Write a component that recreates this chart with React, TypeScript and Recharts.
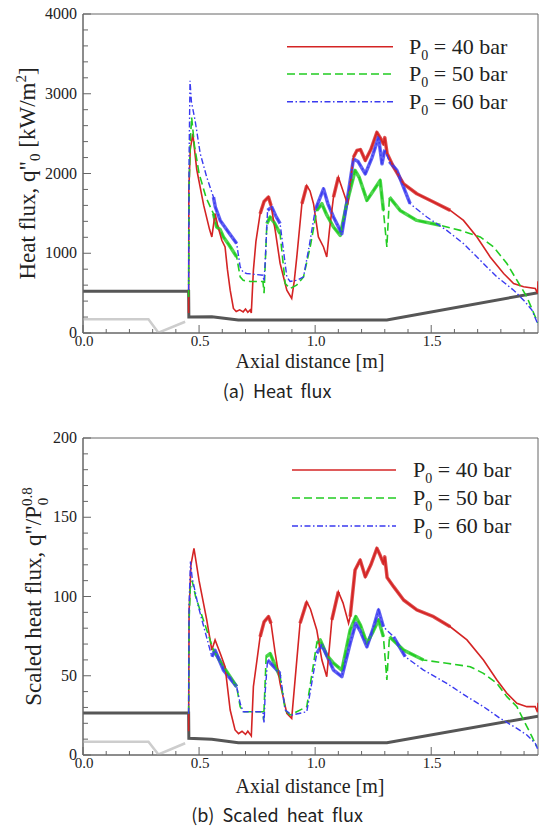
import React from 'react';
import { LineChart, Line, XAxis, YAxis, ReferenceArea } from 'recharts';

// axial distance ticks [m]
const xTicks = [0, 0.1, 0.2, 0.3, 0.4, 0.5, 0.6, 0.7, 0.8, 0.9, 1.0, 1.1, 1.2, 1.3, 1.4, 1.5, 1.6, 1.7, 1.8, 1.9];
const xMajor = [0, 0.5, 1.0, 1.5];

const heatTicks = [0, 200, 400, 600, 800, 1000, 1200, 1400, 1600, 1800, 2000, 2200, 2400, 2600, 2800, 3000, 3200, 3400, 3600, 3800, 4000];
const heatMajor = [0, 1000, 2000, 3000, 4000];
const scaledTicks = [0, 10, 20, 30, 40, 50, 60, 70, 80, 90, 100, 110, 120, 130, 140, 150, 160, 170, 180, 190, 200];
const scaledMajor = [0, 50, 100, 150, 200];

const pressures = ['40', '50', '60'];

// (a) heat flux q"0 [kW/m2]  -> [x, q]
const heat40 = [
  [0.455, 250], [0.456, 1800], [0.462, 2300], [0.473, 2496], [0.49, 2050], [0.52, 1600], [0.545, 1300],
  [0.555, 1204], [0.569, 1496], [0.58, 1350], [0.598, 1163], [0.612, 1079], [0.622, 800], [0.634, 537],
  [0.648, 308], [0.66, 270], [0.675, 290], [0.69, 265], [0.7, 300], [0.71, 260], [0.72, 290], [0.725, 250],
  [0.734, 787], [0.745, 1150], [0.763, 1496], [0.78, 1650], [0.799, 1704], [0.81, 1600], [0.828, 1287],
  [0.849, 875], [0.878, 537], [0.899, 433], [0.91, 650], [0.921, 954], [0.943, 1621], [0.964, 1850],
  [0.978, 1780], [0.993, 1621], [1.014, 1204], [1.036, 1079], [1.05, 954], [1.062, 1300], [1.079, 1704],
  [1.1, 1954], [1.118, 1800], [1.14, 1610], [1.165, 2204], [1.18, 2288], [1.195, 2300], [1.216, 2163],
  [1.24, 2300], [1.266, 2516], [1.28, 2450], [1.294, 2371], [1.3, 2450], [1.31, 2250], [1.338, 2079],
  [1.381, 1871], [1.438, 1746], [1.51, 1642], [1.582, 1537], [1.639, 1412], [1.697, 1204], [1.754, 954],
  [1.812, 746], [1.855, 621], [1.898, 579], [1.948, 558], [1.958, 500], [1.96, 650],
];
const heat50 = [
  [0.455, 450], [0.457, 1800], [0.462, 2400], [0.468, 2704], [0.48, 2350], [0.5, 2000], [0.53, 1700],
  [0.562, 1496], [0.576, 1329], [0.59, 1300], [0.605, 1204], [0.63, 1100], [0.662, 954], [0.677, 704],
  [0.69, 660], [0.72, 646], [0.775, 646], [0.78, 500], [0.792, 1371], [0.806, 1454], [0.825, 1380],
  [0.849, 1246], [0.871, 621], [0.892, 558], [0.92, 600], [0.95, 704], [0.98, 1100], [1.007, 1537],
  [1.029, 1621], [1.05, 1480], [1.079, 1329], [1.108, 1225], [1.136, 1621], [1.172, 2038], [1.19, 1950],
  [1.223, 1663], [1.25, 1780], [1.28, 1913], [1.294, 1537], [1.309, 1079], [1.32, 1704], [1.366, 1537],
  [1.438, 1412], [1.539, 1350], [1.625, 1287], [1.711, 1204], [1.769, 1079], [1.826, 871], [1.869, 662],
  [1.912, 454], [1.948, 204], [1.96, 125],
];
const heat60 = [
  [0.455, 540], [0.457, 2200], [0.461, 3162], [0.467, 2900], [0.483, 2663], [0.505, 2250], [0.533, 1954],
  [0.562, 1704], [0.57, 1580], [0.591, 1412], [0.63, 1250], [0.662, 1121], [0.677, 829], [0.69, 760],
  [0.705, 746], [0.775, 725], [0.78, 650], [0.785, 900], [0.795, 1537], [0.813, 1580], [0.83, 1470],
  [0.849, 1371], [0.878, 704], [0.892, 646], [0.92, 660], [0.95, 704], [0.975, 1100], [1.0, 1537],
  [1.036, 1808], [1.055, 1620], [1.079, 1454], [1.115, 1246], [1.14, 1700], [1.165, 2183], [1.185, 2150],
  [1.216, 1996], [1.245, 2200], [1.273, 2454], [1.288, 2121], [1.3, 2300], [1.32, 2150], [1.352, 2038],
  [1.409, 1621], [1.481, 1454], [1.567, 1287], [1.639, 1121], [1.711, 912], [1.783, 704], [1.855, 537],
  [1.898, 412], [1.934, 287], [1.955, 141], [1.96, 100],
];
const heatWallDark = [[0, 525], [0.455, 525], [0.456, 200], [0.555, 204], [0.669, 162], [1.309, 162], [1.96, 506]];
const heatWallLight = [[0, 171], [0.282, 171], [0.325, 4], [0.44, 141]];

// (b) scaled heat flux q"/P0^0.8 -> [x, s]
const scaled40 = [
  [0.455, 15], [0.457, 90], [0.465, 120], [0.478, 130.4], [0.5, 110], [0.533, 85.2], [0.555, 66.2],
  [0.569, 72.6], [0.591, 64.2], [0.612, 55.7], [0.634, 28.4], [0.655, 15.8], [0.67, 13.5], [0.685, 15],
  [0.7, 13], [0.71, 15], [0.72, 13], [0.725, 12], [0.734, 43.1], [0.763, 74.6], [0.78, 84], [0.799, 87.3],
  [0.81, 83], [0.828, 64.2], [0.849, 45.2], [0.878, 26.3], [0.899, 23.1], [0.921, 59.9], [0.935, 83.1],
  [0.964, 96.7], [0.98, 92], [1.007, 78.9], [1.029, 59.9], [1.05, 49.4], [1.072, 85.2], [1.1, 103],
  [1.12, 96], [1.144, 83.1], [1.151, 87.3], [1.172, 116.7], [1.194, 123], [1.216, 112.5], [1.24, 120],
  [1.266, 130.4], [1.28, 126], [1.294, 120.9], [1.3, 125], [1.31, 112], [1.338, 106.2], [1.381, 97.8],
  [1.438, 91.5], [1.51, 87.3], [1.582, 80.9], [1.654, 72.6], [1.725, 59.9], [1.783, 47.3], [1.826, 38.9],
  [1.869, 32.6], [1.912, 30.5], [1.948, 30.5], [1.958, 27], [1.96, 33],
];
const scaled50 = [
  [0.455, 26], [0.457, 85], [0.462, 105], [0.47, 110], [0.485, 100], [0.504, 91.5], [0.562, 66.2],
  [0.605, 55.7], [0.662, 43.1], [0.677, 30.5], [0.69, 27.3], [0.775, 27.3], [0.778, 22], [0.789, 62],
  [0.806, 64], [0.849, 49.4], [0.871, 28.4], [0.892, 25.2], [0.964, 30.5], [0.985, 50], [1.007, 70.5],
  [1.022, 72.6], [1.05, 63], [1.079, 57.9], [1.115, 53.6], [1.151, 78.9], [1.175, 87.3], [1.195, 82],
  [1.223, 70.5], [1.25, 78], [1.273, 85.2], [1.294, 74.6], [1.309, 47.3], [1.32, 74.6], [1.381, 66.2],
  [1.467, 59.9], [1.567, 57.9], [1.668, 55.7], [1.725, 51.5], [1.783, 45.2], [1.826, 36.8], [1.869, 30.5],
  [1.905, 20], [1.934, 11.6], [1.955, 5.2],
];
const scaled60 = [
  [0.455, 26], [0.457, 95], [0.463, 122], [0.47, 112], [0.497, 93.6], [0.555, 62], [0.569, 66],
  [0.605, 53.6], [0.662, 43.1], [0.677, 32.6], [0.69, 27.3], [0.775, 27.3], [0.78, 20], [0.785, 40],
  [0.795, 59.9], [0.849, 51.5], [0.871, 28.4], [0.899, 25.2], [0.964, 27.3], [0.985, 45], [1.007, 64.2],
  [1.029, 69.4], [1.079, 53.6], [1.115, 49.4], [1.151, 70.5], [1.175, 83.1], [1.195, 78], [1.223, 68.3],
  [1.25, 80], [1.273, 91.5], [1.294, 80.9], [1.338, 74.6], [1.388, 62], [1.467, 53.6], [1.567, 45.2],
  [1.654, 36.8], [1.725, 30.5], [1.797, 23.1], [1.869, 16.8], [1.912, 12.6], [1.948, 7.4], [1.958, 4],
];
const scaledWallDark = [[0, 26.5], [0.455, 26.5], [0.456, 10.5], [0.555, 10], [0.669, 7.8], [1.309, 7.8], [1.96, 24.5]];
const scaledWallLight = [[0, 8.4], [0.282, 8.4], [0.325, 0.3], [0.44, 7.4]];

// x ranges where each curve oscillates into a thick band
const noisy40 = [[0.76, 0.81], [0.935, 0.975], [1.07, 1.115], [1.15, 1.62]];
const noisy50 = [[0.55, 0.665], [0.785, 0.85], [0.995, 1.3], [1.315, 1.55]];
const noisy60 = [[0.55, 0.665], [0.79, 0.85], [0.995, 1.3], [1.315, 1.45]];

const RED = '#d42424';
const GREEN = '#22cc22';
const BLUE = '#3a3af0';
const DARK = '#565656';
const LIGHT = '#cdcdcd';
const AXIS = '#666';
const SERIF = 'Liberation Serif, Times New Roman, serif';
const SANS = 'Noto Sans CJK KR, Noto Sans, sans-serif';

const styles = [
  { color: RED, dash: undefined, width: 1.6, noisy: noisy40 },
  { color: GREEN, dash: '8 4', width: 1.6, noisy: noisy50 },
  { color: BLUE, dash: '6 2.5 1.5 2.5', width: 1.4, noisy: noisy60 },
];

const pts = (arr: number[][]) => arr.map(([x, y]) => ({ x, y }));

// same points, kept only inside the noisy ranges, with gaps between them
const bandPts = (arr: number[][], ranges: number[][]) => {
  const out: { x: number; y: number | null }[] = [];
  ranges.forEach(([lo, hi]) => {
    arr.filter(([x]) => x >= lo && x <= hi).forEach(([x, y]) => out.push({ x, y }));
    out.push({ x: hi + 0.0005, y: null });
  });
  return out;
};

const BottomTick = (props: any) => {
  const { x, y, payload } = props;
  const v = payload.value;
  const major = xMajor.includes(v);
  return (
    <g>
      <line x1={x} x2={x} y1={y} y2={y - (major ? 8 : 4)} stroke={AXIS} />
      {major && (
        <text x={x + 1} y={y + 13} textAnchor="middle" fontSize={15} fontFamily={SERIF} fill="#222">
          {v.toFixed(1)}
        </text>
      )}
    </g>
  );
};

const makeLeftTick = (majors: number[]) => (props: any) => {
  const { x, y, payload } = props;
  const v = payload.value;
  const major = majors.includes(v);
  return (
    <g key={`yt-${v}`}>
      <line x1={x} x2={x + (major ? 8 : 5)} y1={y} y2={y} stroke={AXIS} />
      {major && (
        <text x={x - 6} y={y + 5} textAnchor="end" fontSize={16} fontFamily={SERIF} fill="#222">
          {v}
        </text>
      )}
    </g>
  );
};

interface PanelProps {
  top: number;
  plotTop: number;
  plotBottom: number;
  yMax: number;
  yTicks: number[];
  yMajor: number[];
  curves: number[][][];
  wallDark: number[][];
  wallLight: number[][];
  yTitle: React.ReactNode;
  yTitleX: number;
  xTitleY: number;
  caption: string;
  captionY: number;
  legendRows: number[];
  legendX: number[];
}

const Panel: React.FC<PanelProps> = (p) => {
  const H = 414;
  const midY = (p.plotTop + p.plotBottom) / 2;
  return (
    <div style={{ position: 'absolute', left: 0, top: p.top, width: 540, height: H }}>
      <LineChart width={540} height={H} margin={{ top: p.plotTop, right: 2, left: 0, bottom: 0 }}>
        <XAxis
          type="number"
          dataKey="x"
          domain={[0, 1.96]}
          allowDataOverflow
          ticks={xTicks}
          interval={0}
          tickLine={false}
          tickSize={0}
          tickMargin={0}
          height={H - p.plotBottom}
          axisLine={{ stroke: AXIS }}
          tick={BottomTick}
        />
        <YAxis
          type="number"
          dataKey="y"
          domain={[0, p.yMax]}
          allowDataOverflow
          ticks={p.yTicks}
          interval={0}
          width={83}
          tickLine={false}
          tickSize={0}
          tickMargin={0}
          axisLine={{ stroke: AXIS }}
          tick={makeLeftTick(p.yMajor)}
        />
        <ReferenceArea x1={0} x2={1.96} y1={0} y2={p.yMax} fill="none" stroke={AXIS} strokeWidth={1} />
        <Line data={pts(p.wallLight)} dataKey="y" type="linear" stroke={LIGHT} strokeWidth={2.5} dot={false} activeDot={false} isAnimationActive={false} />
        <Line data={pts(p.wallDark)} dataKey="y" type="linear" stroke={DARK} strokeWidth={3} dot={false} activeDot={false} isAnimationActive={false} />
        {p.curves.map((c, i) => (
          <Line
            key={`band-${pressures[i]}`}
            data={bandPts(c, styles[i].noisy)}
            dataKey="y"
            type="linear"
            stroke={styles[i].color}
            strokeWidth={3.5}
            strokeOpacity={0.8}
            strokeLinejoin="round"
            dot={false}
            activeDot={false}
            isAnimationActive={false}
          />
        ))}
        {p.curves.map((c, i) => (
          <Line
            key={pressures[i]}
            data={pts(c)}
            dataKey="y"
            type="linear"
            stroke={styles[i].color}
            strokeWidth={styles[i].width}
            strokeDasharray={styles[i].dash}
            dot={false}
            activeDot={false}
            isAnimationActive={false}
          />
        ))}
      </LineChart>
      <svg width={540} height={H} style={{ position: 'absolute', left: 0, top: 0, pointerEvents: 'none' }}>
        <text
          transform={`translate(${p.yTitleX},${midY}) rotate(-90)`}
          textAnchor="middle"
          fontSize={23}
          fontFamily={SERIF}
          fill="#222"
        >
          {p.yTitle}
        </text>
        <text x={310} y={p.xTitleY} textAnchor="middle" fontSize={20} fontFamily={SERIF} fill="#222">
          Axial distance [m]
        </text>
        <text x={277} y={p.captionY} textAnchor="middle" fontSize={18} fontFamily={SANS} fill="#222" style={{ whiteSpace: 'pre' }}>
          {p.caption}
        </text>
        {pressures.map((pr, i) => (
          <g key={pr}>
            <line
              x1={p.legendX[0]}
              x2={p.legendX[1]}
              y1={p.legendRows[i]}
              y2={p.legendRows[i]}
              stroke={styles[i].color}
              strokeWidth={styles[i].width}
              strokeDasharray={styles[i].dash}
            />
            <text x={p.legendX[2]} y={p.legendRows[i] + 7} fontSize={22} fontFamily={SERIF} fill="#222">
              P
              <tspan dy={6} fontSize={14}>0</tspan>
              <tspan dy={-6}>{` = ${pr} bar`}</tspan>
            </text>
          </g>
        ))}
      </svg>
    </div>
  );
};

const App: React.FC = () => (
  <div style={{ position: 'absolute', left: 0, top: 0, width: 540, height: 828, background: '#fff' }}>
    <Panel
      top={0}
      plotTop={14}
      plotBottom={333}
      yMax={4000}
      yTicks={heatTicks}
      yMajor={heatMajor}
      curves={[heat40, heat50, heat60]}
      wallDark={heatWallDark}
      wallLight={heatWallLight}
      yTitleX={35}
      yTitle={
        <>
          Heat flux, q"
          <tspan dy={5} fontSize={15}>0</tspan>
          <tspan dy={-5}> [kW/m</tspan>
          <tspan dy={-9} fontSize={15}>2</tspan>
          <tspan dy={9}>]</tspan>
        </>
      }
      xTitleY={368}
      caption="(a)  Heat  flux"
      captionY={398}
      legendRows={[46.7, 74, 101.7]}
      legendX={[287, 393, 409]}
    />
    <Panel
      top={414}
      plotTop={24}
      plotBottom={341}
      yMax={200}
      yTicks={scaledTicks}
      yMajor={scaledMajor}
      curves={[scaled40, scaled50, scaled60]}
      wallDark={scaledWallDark}
      wallLight={scaledWallLight}
      yTitleX={41}
      yTitle={
        <>
          Scaled heat flux, q"/P
          <tspan dy={-9} fontSize={15}>0.8</tspan>
          <tspan dx={-18} dy={16} fontSize={15}>0</tspan>
        </>
      }
      xTitleY={379}
      caption="(b)  Scaled  heat  flux"
      captionY={408}
      legendRows={[56, 84, 112]}
      legendX={[292, 396, 413]}
    />
  </div>
);

export default App;
